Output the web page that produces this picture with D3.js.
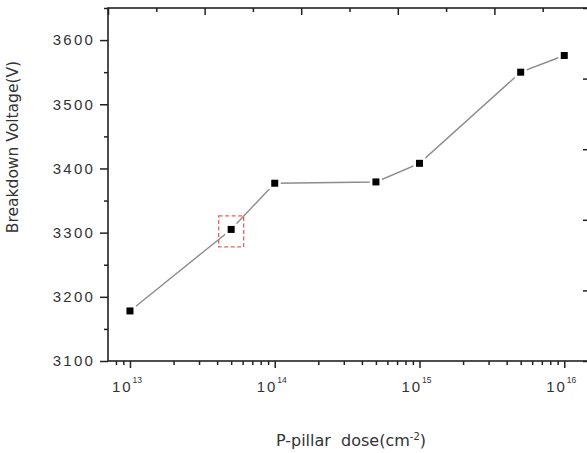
<!DOCTYPE html>
<html>
<head>
<meta charset="utf-8">
<script src="https://cdn.jsdelivr.net/npm/d3@7"></script>
<style>
  body { margin: 0; background: #fff; }
  svg { display: block; }
  text { font-family: "Liberation Sans", Arial, sans-serif; fill: #333; }
</style>
</head>
<body>
<div id="chart"></div>
<script>
// data
const doses = [1e13, 5e13, 1e14, 5e14, 1e15, 5e15, 1e16];
const voltages = [3178, 3305, 3377, 3379, 3408, 3550, 3576];
const yTicks = [3100, 3200, 3300, 3400, 3500, 3600];
const xDecades = [13, 14, 15, 16];
const highlighted = [5e13];   // point with the red dashed box

const width = 587;
const height = 453;
const plotL = 108, plotR = 591, plotT = 8, plotB = 361;

const svg = d3.select("#chart")
    .append("svg")
    .attr("width", width)
    .attr("height", height);

const x = d3.scaleLog().domain([7.05e12, 1.53e16]).range([plotL, plotR]);
const y = d3.scaleLinear().domain([3100, 3650]).range([plotB, plotT]);

// unlabelled opposite axes (top / right) just carry evenly spaced ticks
const xTop = d3.scaleLinear().domain([0, 10]).range([plotL, plotR]);
const yRight = d3.scaleLinear().domain([0, 10]).range([plotB, plotT]);

const axisColor = "#222";

// left axis: major + minor ticks, pointing out
const leftMajor = svg.append("g")
    .attr("transform", `translate(${plotL},0)`)
    .call(d3.axisLeft(y).tickValues(yTicks).tickSize(8).tickPadding(7).tickFormat(d3.format("d")));
leftMajor.selectAll("text")
    .style("font-size", "15px")
    .attr("letter-spacing", "2.2px")
    .attr("dx", "2px")
    .attr("fill", "#2a2a2a");

svg.append("g")
    .attr("transform", `translate(${plotL},0)`)
    .call(d3.axisLeft(y).tickValues(yTicks.map(d => d + 50)).tickSize(4).tickFormat(""));

// bottom axis: log ticks pointing out
const minorX = [];
for (let e = 12; e <= 16; e++) {
    for (let m = 2; m <= 9; m++) {
        const v = m * Math.pow(10, e);
        if (v >= x.domain()[0] && v <= x.domain()[1]) minorX.push(v);
    }
}
svg.append("g")
    .attr("transform", `translate(0,${plotB})`)
    .call(d3.axisBottom(x).tickValues(xDecades.map(e => Math.pow(10, e))).tickSize(7).tickFormat(""));
svg.append("g")
    .attr("transform", `translate(0,${plotB})`)
    .call(d3.axisBottom(x).tickValues(minorX).tickSize(4).tickFormat(""));

// 10^n labels
const xLab = svg.append("g")
    .selectAll("text")
    .data(xDecades)
    .join("text")
    .attr("x", d => x(Math.pow(10, d)) - 3)
    .attr("y", plotB + 31)
    .attr("text-anchor", "middle")
    .attr("fill", "#2a2a2a")
    .style("font-size", "15px");
xLab.append("tspan")
    .attr("letter-spacing", "2px")
    .text("10");
xLab.append("tspan")
    .attr("dy", -9)
    .style("font-size", "8.5px")
    .text(d => d);

// top axis: ticks pointing in
svg.append("g")
    .attr("transform", `translate(0,${plotT})`)
    .call(d3.axisBottom(xTop).tickValues(d3.range(0, 11, 2)).tickSize(7).tickFormat(""));
svg.append("g")
    .attr("transform", `translate(0,${plotT})`)
    .call(d3.axisBottom(xTop).tickValues(d3.range(1, 11, 2)).tickSize(4).tickFormat(""));

// right axis: ticks pointing in
svg.append("g")
    .attr("transform", `translate(${plotR},0)`)
    .call(d3.axisLeft(yRight).tickValues(d3.range(0, 11, 2)).tickSize(8).tickFormat(""));
svg.append("g")
    .attr("transform", `translate(${plotR},0)`)
    .call(d3.axisLeft(yRight).tickValues(d3.range(1, 11, 2)).tickSize(4).tickFormat(""));

svg.selectAll(".domain").remove();
svg.selectAll(".tick line")
    .attr("stroke", axisColor)
    .attr("stroke-width", 1.5);

// frame
svg.append("rect")
    .attr("x", plotL)
    .attr("y", plotT)
    .attr("width", plotR - plotL)
    .attr("height", plotB - plotT)
    .attr("fill", "none")
    .attr("stroke", axisColor)
    .attr("stroke-width", 1.6);

// series line
const pts = doses.map((d, i) => [d, voltages[i]]);
svg.append("path")
    .datum(pts)
    .attr("fill", "none")
    .attr("stroke", "#8c8c8c")
    .attr("stroke-width", 1.4)
    .attr("d", d3.line().x(d => x(d[0])).y(d => y(d[1])));

// white halo leaves small gaps in the line next to each marker
svg.append("g")
    .selectAll("rect")
    .data(pts)
    .join("rect")
    .attr("x", d => x(d[0]) - 6)
    .attr("y", d => y(d[1]) - 6)
    .attr("width", 12)
    .attr("height", 12)
    .attr("fill", "#fff");

svg.append("g")
    .selectAll("rect")
    .data(pts)
    .join("rect")
    .attr("x", d => x(d[0]) - 3.5)
    .attr("y", d => y(d[1]) - 3.5)
    .attr("width", 7)
    .attr("height", 7)
    .attr("fill", "#000");

// red dashed highlight box
svg.append("g")
    .selectAll("rect")
    .data(pts.filter(d => highlighted.includes(d[0])))
    .join("rect")
    .attr("x", d => x(d[0]) - 12.5)
    .attr("y", d => y(d[1]) - 13.5)
    .attr("width", 25)
    .attr("height", 31)
    .attr("fill", "none")
    .attr("stroke", "#e8615f")
    .attr("stroke-width", 1.3)
    .attr("stroke-dasharray", "4,2.5");

// axis titles
svg.append("text")
    .attr("x", 351)
    .attr("y", 446)
    .attr("text-anchor", "middle")
    .style("font-family", "'DejaVu Sans', sans-serif")
    .style("font-size", "16px")
    .attr("xml:space", "preserve")
    .html("P-pillar  dose(cm<tspan dy='-6' font-size='10px'>-2</tspan><tspan dy='6'>)</tspan>");

svg.append("text")
    .attr("transform", "translate(18,147) rotate(-90)")
    .attr("text-anchor", "middle")
    .style("font-family", "'DejaVu Sans', sans-serif")
    .style("font-size", "15.5px")
    .text("Breakdown Voltage(V)");
</script>
</body>
</html>
